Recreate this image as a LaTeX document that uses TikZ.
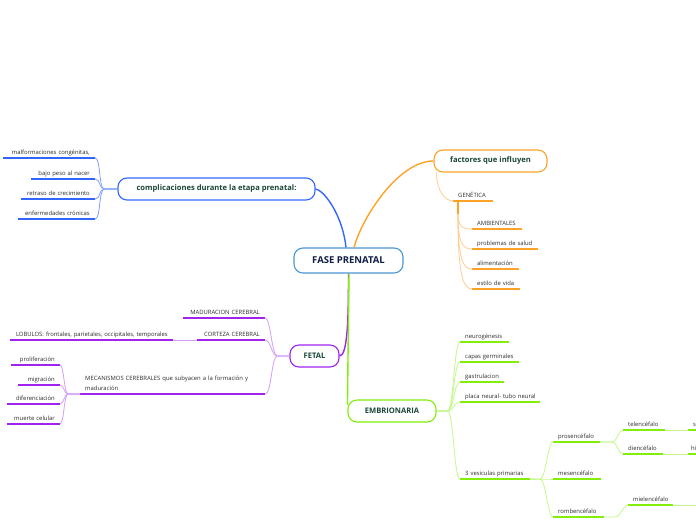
\documentclass[tikz,border=0pt]{standalone}
\usepackage{fontspec}
\setmainfont{Open Sans}
\definecolor{bblue}{RGB}{51,102,255}
\definecolor{lblue}{RGB}{130,160,255}
\definecolor{borange}{RGB}{255,163,40}
\definecolor{lorange}{RGB}{255,206,145}
\definecolor{bpurple}{RGB}{160,36,238}
\definecolor{lpurple}{RGB}{212,158,250}
\definecolor{bgreen}{RGB}{130,238,10}
\definecolor{lgreen}{RGB}{196,248,140}
\definecolor{cblue}{RGB}{72,152,215}
\definecolor{headtxt}{RGB}{25,70,55}
\definecolor{centtxt}{RGB}{15,30,70}
\definecolor{leaftxt}{RGB}{45,45,45}
\newcommand\leaffont{\fontsize{5.9}{7}\selectfont}
\tikzset{
  topic/.style={draw, line width=1.1pt, rounded corners=9pt, fill=white,
    font=\fontsize{7.6}{9}\selectfont\bfseries, text=headtxt,
    minimum height=22pt, inner sep=0pt},
  leafL/.style={anchor=south west, text width=#1, align=left, inner xsep=5pt,
    inner ysep=2.3pt, text height=4.5pt, text depth=1.2pt, font=\leaffont, text=leaftxt},
  leafR/.style={anchor=south east, text width=#1, align=right, inner xsep=5pt,
    inner ysep=2.3pt, text height=4.5pt, text depth=1.2pt, font=\leaffont, text=leaftxt},
  ul/.style={line width=1.7pt},
  conn/.style={line width=0.8pt},
  mainconn/.style={line width=1.4pt},
}
\begin{document}
\begin{tikzpicture}[x=1pt,y=-1pt]
\useasboundingbox (0,0) rectangle (696,520);
\fill[white] (0,0) rectangle (696,520);

% topics
\node[topic, draw=cblue, text=centtxt, font=\fontsize{9.5}{11}\selectfont\bfseries,
  minimum width=109pt, minimum height=25pt] (fase) at (348.5,260.5) {FASE PRENATAL};
\node[topic, draw=bblue, minimum width=197pt] (comp) at (216.5,189) {complicaciones durante la etapa prenatal:};
\node[topic, draw=borange, minimum width=113pt] (fact) at (490.5,161) {factores que influyen};
\node[topic, draw=bpurple, minimum width=49pt] (fetal) at (314.5,356) {FETAL};
\node[topic, draw=bgreen, minimum width=88pt] (embr) at (392,411) {EMBRIONARIA};

% main connectors
\draw[mainconn, bblue] (comp.east) .. controls +(10,2) and +(-3,-30) .. ([xshift=-2.5pt]fase.north);
\draw[mainconn, borange] ([xshift=5.5pt]fase.north) .. controls +(8,-30) and +(-35,0) .. (fact.west);
\draw[mainconn, bpurple] (fase.south) .. controls +(0,45) and +(8,0) .. (fetal.east);
\draw[mainconn, bgreen] ([xshift=0.5pt]fase.south) -- ([yshift=6pt]embr.west);

% blue leaves
\node[leafR=82pt] (mal) at (95,158) {malformaciones congénitas,};
\node[leafR=54pt] (bajo) at (95,179) {bajo peso al nacer};
\node[leafR=64pt] (retr) at (95,199) {retraso de crecimiento};
\node[leafR=67pt] (enf) at (95,219) {enfermedades crónicas};
\foreach \n in {mal,bajo,retr,enf}{
  \draw[ul, bblue] (\n.south west) -- (\n.south east);
  \draw[conn, lblue] (comp.west) -- ++(-13,0) .. controls +(-6,0) and +(6,0) .. (\n.south east);
}

% orange leaves
\node[leafL=30pt] (gen) at (453,201) {GENÉTICA};
\draw[ul, borange] (gen.south west) -- (gen.south east);
\draw[conn, lorange] ([xshift=3pt]fact.south west) .. controls +(0,18) and +(-8,0) .. (gen.south west);
\draw[ul, borange] ([xshift=5pt]gen.south west) -- ++(0,13) coordinate (gj);
\node[leafL=40pt] (amb) at (472,229) {AMBIENTALES};
\node[leafL=56pt] (prob) at (472,249) {problemas de salud};
\node[leafL=37pt] (alim) at (472,269) {alimentación};
\node[leafL=38pt] (est) at (472,289) {estilo de vida};
\foreach \n/\d in {amb/12,prob/28,alim/42,est/56}{
  \draw[ul, borange] (\n.south west) -- (\n.south east);
  \draw[conn, lorange] (gj) .. controls +(0,\d) and +(-10,0) .. (\n.south west);
}

% purple leaves
\node[leafR=72pt] (mad) at (265,318) {MADURACION CEREBRAL};
\node[leafR=58pt] (cort) at (265,340) {CORTEZA CEREBRAL};
\node[leafR=153pt] (lob) at (173,340) {LOBULOS: frontales, parietales, occipitales, temporales};
\node[leafL=175pt, font=\fontsize{5.9}{9.8}\selectfont, text depth=11pt] (mec) at (80,394)
  {MECANISMOS CEREBRALES que subyacen a la formación y\\maduración};
\foreach \n in {mad,cort,mec}{
  \draw[ul, bpurple] (\n.south west) -- (\n.south east);
  \draw[conn, lpurple] (fetal.west) -- ++(-12,0) .. controls +(-6,0) and +(6,0) .. (\n.south east);
}
\draw[ul, bpurple] (lob.south west) -- (lob.south east);
\draw[conn, lpurple] (cort.south west) -- (lob.south east);
\node[leafR=39pt] (prol) at (60,365) {proliferación};
\node[leafR=32pt] (mig) at (60,385) {migración};
\node[leafR=43pt] (dif) at (60,404) {diferenciación};
\node[leafR=43pt] (muer) at (60,424) {muerte celular};
\foreach \n in {prol,mig,dif,muer}{
  \draw[ul, bpurple] (\n.south west) -- (\n.south east);
  \draw[conn, lpurple] (mec.south west) -- ++(-12,0) .. controls +(-4,0) and +(4,0) .. (\n.south east);
}

% green leaves
\node[leafL=39pt] (neu) at (460,342) {neurogénesis};
\node[leafL=49pt] (cap) at (460,362) {capas germinales};
\node[leafL=34pt] (gas) at (460,382) {gastrulacion};
\node[leafL=70pt] (pla) at (460,402) {\mbox{placa neural- tubo neural}};
\node[leafL=60pt] (ves) at (460,479) {3 vesiculas primarias};
\foreach \n in {neu,cap,gas,pla,ves}{
  \draw[ul, bgreen] (\n.south west) -- (\n.south east);
  \draw[conn, lgreen] (embr.east) -- ++(11,0) .. controls +(6,0) and +(-6,0) .. (\n.south west);
}
\node[leafL=37pt] (pros) at (553,442) {prosencéfalo};
\node[leafL=38pt] (mes) at (553,479) {mesencéfalo};
\node[leafL=41pt] (romb) at (553,517) {rombencéfalo};
\foreach \n in {pros,mes,romb}{
  \draw[ul, bgreen] (\n.south west) -- (\n.south east);
  \draw[conn, lgreen] (ves.south east) -- ++(10,0) .. controls +(5,0) and +(-5,0) .. (\n.south west);
}
\node[leafL=32pt] (tel) at (623,430) {telencéfalo};
\node[leafL=30pt] (die) at (623,454) {diencéfalo};
\foreach \n in {tel,die}{
  \draw[ul, bgreen] (\n.south west) -- (\n.south east);
  \draw[conn, lgreen] (pros.south east) -- ++(12,0) .. controls +(4,0) and +(-4,0) .. (\n.south west);
}
\node[leafL=35pt] (miel) at (628,505) {mielencéfalo};
\draw[ul, bgreen] (miel.south west) -- (miel.south east);
\draw[conn, lgreen] (romb.south east) -- ++(11,0) .. controls +(4,0) and +(-4,0) .. (miel.south west);
\node[leafL=40pt] (sx) at (688,430) {s};
\node[leafL=40pt, inner xsep=3pt] (hx) at (688,454) {hi};
\draw[ul, bgreen] (sx.south west) -- (sx.south east);
\draw[ul, bgreen] (hx.south west) -- (hx.south east);
\draw[conn, lgreen] (tel.south east) -- (sx.south west);
\draw[conn, lgreen] (die.south east) -- (hx.south west);
\coordinate (mielnext) at (700,505);
\draw[conn, lgreen] (miel.south east) -- (mielnext);
\end{tikzpicture}
\end{document}
